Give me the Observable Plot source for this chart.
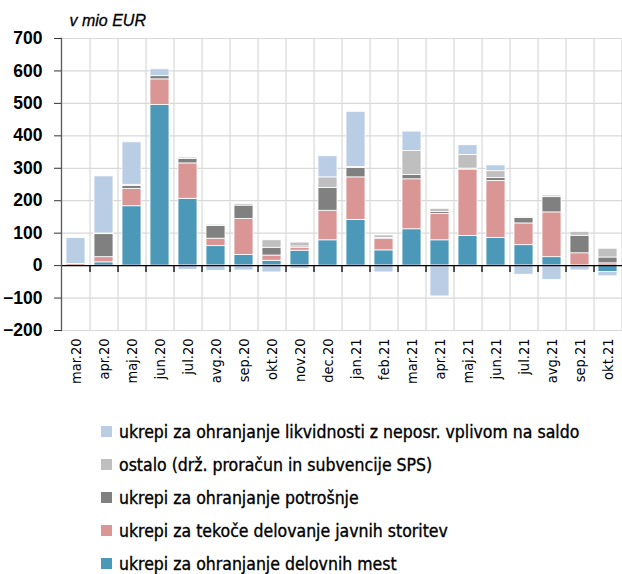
<!DOCTYPE html>
<html><head><meta charset="utf-8">
<script src="https://cdn.jsdelivr.net/npm/d3@7"></script>
<script src="https://cdn.jsdelivr.net/npm/@observablehq/plot@0.6"></script>
<style>
body{margin:0;background:#fff;}
#legend{padding-top:10px;margin-left:101px;font-family:"DejaVu Sans Condensed","DejaVu Sans",sans-serif;font-size:17.5px;color:#000;-webkit-text-stroke:0.35px #000;}
.row{display:flex;align-items:center;height:33px;white-space:nowrap;}
.sw{width:11px;height:11px;margin-right:7px;flex:none;}
[aria-label="x-axis tick label"] text{-webkit-text-stroke:0.35px #000;}
</style></head><body>
<div id="chart"></div><div id="legend"></div>
<script>
const months = ["mar.20","apr.20","maj.20","jun.20","jul.20","avg.20","sep.20","okt.20","nov.20","dec.20","jan.21","feb.21","mar.21","apr.21","maj.21","jun.21","jul.21","avg.21","sep.21","okt.21"];

// stacking order, bottom to top
const seriesNames = [
  "ukrepi za ohranjanje delovnih mest",
  "ukrepi za tekoče delovanje javnih storitev",
  "ukrepi za ohranjanje potrošnje",
  "ostalo (drž. proračun in subvencije SPS)",
  "ukrepi za ohranjanje likvidnosti z neposr. vplivom na saldo"
];
const seriesColors = ["#4b98b9", "#d99694", "#808080", "#bfbfbf", "#b9cde5"];

const delovnaMesta  = [0, 10, 183, 495, 206, 60, 33, 15, 46, 78, 141, 47, 112, 78, 91, 85, 63, 26, 0, -20];
const javneStoritve = [5, 16, 53, 79, 109, 23, 111, 16, 9, 91, 131, 36, 154, 81, 205, 176, 67, 138, 38, 7];
const potrosnja     = [0, 71, 10, 10, 14, 39, 41, 24, 4, 70, 29, 2, 13, 6, 3, 9, 17, 47, 54, 18];
const ostalo        = [0, 2, 3, 0, 4, 4, 5, 23, 12, 33, 3, 8, 74, 10, 42, 21, 3, 5, 12, 27];
const likvidnost    = [80, 176, 131, 21, -13, -16, -15, -21, -10, 65, 170, -21, 60, -95, 30, 18, -28, -44, -15, -13];

const yTicks = [-200, -100, 0, 100, 200, 300, 400, 500, 600, 700];
const legendOrder = [4, 3, 2, 1, 0];

const seriesValues = [delovnaMesta, javneStoritve, potrosnja, ostalo, likvidnost];
const data = [];
seriesValues.forEach((vals, si) => vals.forEach((v, i) => data.push({month: months[i], series: seriesNames[si], value: v})));

const W = 622, H = 405, mL = 61, mR = 0;
const step = (W - mL - mR) / months.length;

const chart = Plot.plot({
  width: W, height: H,
  marginTop: 38, marginBottom: 75, marginLeft: mL, marginRight: mR,
  style: {background: "#fff", color: "#000"},
  x: {domain: months, paddingInner: 0.31, paddingOuter: 0.155, label: null},
  y: {domain: [-200, 700], label: null},
  color: {domain: seriesNames, range: seriesColors},
  marks: [
    Plot.gridY(yTicks, {stroke: "#d9d9d9", strokeOpacity: 1, strokeWidth: 1.2}),
    Plot.ruleX(months, {x: d => d, dx: step / 2, stroke: "#d9d9d9", strokeWidth: 1.2}),
    Plot.barY(data, {x: "month", y: "value", fill: "series", stroke: "#fff", strokeWidth: 0.8}),
    Plot.ruleY([0], {stroke: "#000", strokeWidth: 1.3}),
    Plot.ruleX(months.slice(0, -1), {x: d => d, dx: step / 2, y1: 0, y2: 0, insetTop: 7, stroke: "#000", strokeWidth: 1.3}),
    Plot.frame({anchor: "left", stroke: "#595959", strokeWidth: 1.3}),
    Plot.axisY(yTicks, {tickSize: 7, tickPadding: 12, fontSize: 17.5, fontWeight: "bold", fontFamily: "Liberation Sans, Arial, sans-serif", stroke: "#333", label: null}),
    Plot.axisX({tickRotate: -90, tickSize: 0, tickPadding: 8, fontSize: 14.5, fontFamily: "DejaVu Sans Condensed, DejaVu Sans, sans-serif", label: null}),
    Plot.text(["v mio EUR"], {text: d => d, frameAnchor: "top-left", dx: 8, dy: -13, lineAnchor: "bottom", fontSize: 16, fontStyle: "italic", fontFamily: "Liberation Sans, Arial, sans-serif", fill: "#000", stroke: "#000", strokeWidth: 0.3})
  ]
});
document.getElementById("chart").appendChild(chart);

const legend = document.getElementById("legend");
legendOrder.forEach(si => {
  const row = document.createElement("div");
  row.className = "row";
  const sw = document.createElement("span");
  sw.className = "sw";
  sw.style.background = seriesColors[si];
  const label = document.createElement("span");
  label.textContent = seriesNames[si];
  row.appendChild(sw);
  row.appendChild(label);
  legend.appendChild(row);
});
</script>
</body></html>
